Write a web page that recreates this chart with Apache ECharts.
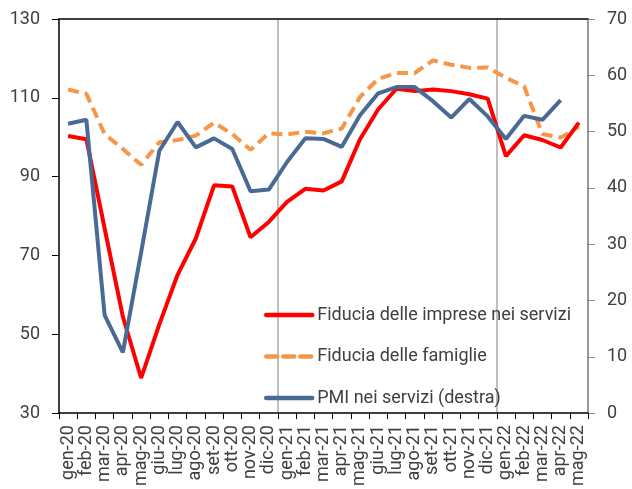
<!DOCTYPE html>
<html><head><meta charset="utf-8">
<script src="https://cdn.jsdelivr.net/npm/echarts@6/dist/echarts.min.js"></script>
<style>html,body{margin:0;padding:0;background:#fff}#c{width:632px;height:489px}</style>
</head><body><div id="c"></div>
<script>
const categories = ['gen-20','feb-20','mar-20','apr-20','mag-20','giu-20','lug-20','ago-20','set-20','ott-20','nov-20','dic-20',
 'gen-21','feb-21','mar-21','apr-21','mag-21','giu-21','lug-21','ago-21','set-21','ott-21','nov-21','dic-21',
 'gen-22','feb-22','mar-22','apr-22','mag-22'];
const fiduciaImprese = [100.3,99.5,76.9,54.5,38.9,52.5,65.1,74.3,87.8,87.5,74.6,78.5,
 83.6,86.9,86.5,88.8,99.5,107.1,112.3,111.7,112.1,111.7,110.9,109.8,
 95.2,100.5,99.3,97.4,103.7];
const fiduciaFamiglie = [112.1,111.0,100.8,97.0,93.0,98.7,99.3,100.4,103.7,100.8,96.8,101.0,
 100.7,101.4,101.0,102.2,110.2,114.8,116.3,116.3,119.5,118.4,117.6,117.7,
 115.1,112.9,100.8,99.9,102.7];
const pmiServizi = [51.4,52.1,17.4,10.8,28.5,46.6,51.7,47.2,48.8,46.9,39.4,39.7,
 44.6,48.8,48.7,47.3,52.9,56.8,57.9,57.9,55.4,52.5,55.8,52.7,
 48.7,52.8,52.1,55.6,null];
const leftTicks = {min:30, max:130, interval:20};
const rightTicks = {min:0, max:70, interval:10};

const chart = echarts.init(document.getElementById('c'), null, {renderer:'canvas'});
const font = 'Roboto';
const txt = '#404040';
chart.setOption({
  animation:false,
  textStyle:{fontFamily:font},
  grid:{left:59, right:44, top:19, bottom:73},
  legend:{
    orient:'vertical', left:259, top:301, itemWidth:46, itemHeight:18, itemGap:23.5,
    itemStyle:{color:'transparent', borderWidth:0, opacity:0},
    lineStyle:{width:4.5, cap:'round'},
    textStyle:{fontFamily:font, fontSize:18, color:txt},
    data:['Fiducia delle imprese nei servizi','Fiducia delle famiglie','PMI nei servizi (destra)']
  },
  xAxis:[{
    type:'category', data:categories, boundaryGap:true,
    axisLine:{lineStyle:{color:'#000', width:1.5}},
    axisTick:{show:true, length:6, interval:0, lineStyle:{color:'#000'}},
    axisLabel:{rotate:90, interval:0, fontFamily:font, fontSize:18, color:txt, margin:12},
    splitLine:{show:true, interval:function(i){return i===12||i===24;}, lineStyle:{color:'#aaaaaa', width:1.5}}
  },{
    type:'category', data:categories, position:'top',
    axisLine:{lineStyle:{color:'#000', width:1.5}},
    axisTick:{show:false}, axisLabel:{show:false}, splitLine:{show:false}
  }],
  yAxis:[{
    type:'value', min:leftTicks.min, max:leftTicks.max, interval:leftTicks.interval, position:'left',
    axisLine:{show:true, lineStyle:{color:'#000', width:1.5}},
    axisTick:{show:true, length:7, lineStyle:{color:'#000'}},
    axisLabel:{fontFamily:font, fontSize:18, color:txt, margin:19},
    splitLine:{show:false}
  },{
    type:'value', min:rightTicks.min, max:rightTicks.max, interval:rightTicks.interval, position:'right',
    axisLine:{show:true, lineStyle:{color:'#888', width:1.5}},
    axisTick:{show:true, length:7, lineStyle:{color:'#888'}},
    axisLabel:{fontFamily:font, fontSize:18, color:txt, margin:19},
    splitLine:{show:false}
  }],
  series:[{
    name:'Fiducia delle imprese nei servizi', type:'line', data:fiduciaImprese, yAxisIndex:0,
    symbol:'none', lineStyle:{color:'#ff0000', width:4}, itemStyle:{color:'#ff0000'}, z:3
  },{
    name:'Fiducia delle famiglie', type:'line', data:fiduciaFamiglie, yAxisIndex:0,
    symbol:'none', lineStyle:{color:'#f79646', width:4, type:[11,6]}, itemStyle:{color:'#f79646'}, z:2
  },{
    name:'PMI nei servizi (destra)', type:'line', data:pmiServizi, yAxisIndex:1,
    symbol:'none', lineStyle:{color:'#4a6a96', width:4}, itemStyle:{color:'#4a6a96'}, z:4
  }]
});
</script></body></html>
